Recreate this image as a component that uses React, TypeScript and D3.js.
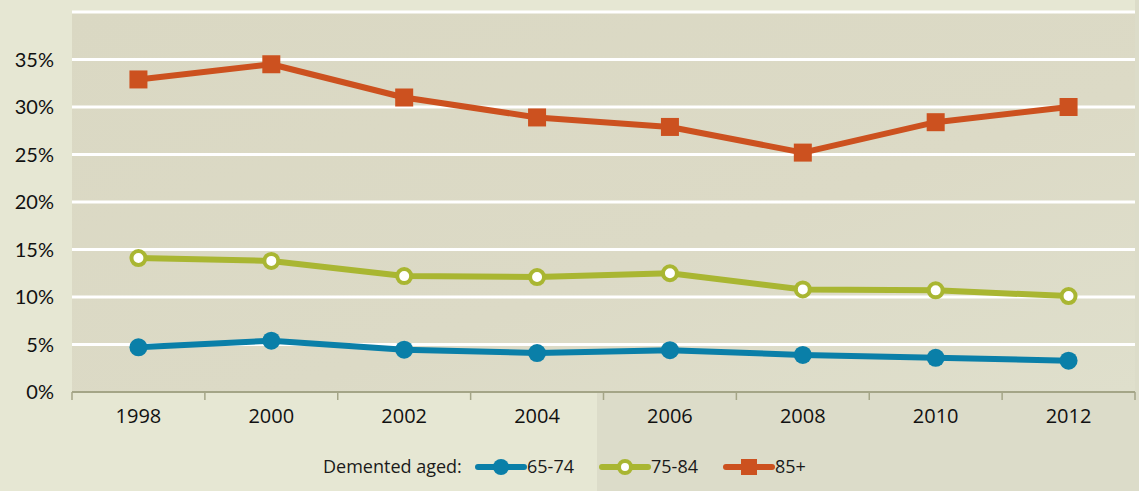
import React from 'react';
import { scaleBand, scaleLinear, line } from 'd3';

const YEARS = ['1998', '2000', '2002', '2004', '2006', '2008', '2010', '2012'];
const AGED_65_74 = [4.7, 5.4, 4.45, 4.1, 4.4, 3.9, 3.6, 3.3];
const AGED_75_84 = [14.1, 13.8, 12.2, 12.1, 12.5, 10.8, 10.7, 10.1];
const AGED_85_PLUS = [32.9, 34.5, 31.0, 28.9, 27.9, 25.2, 28.4, 30.0];
const Y_TICKS = [0, 5, 10, 15, 20, 25, 30, 35];
const GRID_TICKS = [5, 10, 15, 20, 25, 30, 35, 40];
const LEGEND_TITLE = 'Demented aged:';
const SERIES_NAMES = ['65-74', '75-84', '85+'];

const BLUE = '#0a7fa8';
const GREEN = '#a9b632';
const ORANGE = '#cc511f';
const OUTER_BG = '#e6e7d3';
const AXIS = '#a4a587';

const W = 1139;
const H = 491;
const M = { left: 72, right: 4, top: 12, bottom: 99 };

export default function App() {
  const x = scaleBand<string>().domain(YEARS).range([M.left, W - M.right]);
  const y = scaleLinear().domain([0, 40]).range([H - M.bottom, M.top]);
  const cx = (d: string) => (x(d) ?? 0) + x.bandwidth() / 2;

  const lineGen = line<number>()
    .x((_, i) => cx(YEARS[i]))
    .y((v) => y(v));

  const yFont = 'Lato, "Open Sans", sans-serif';
  const xFont = '"Open Sans", "Noto Sans", sans-serif';
  const legendFont = '"Open Sans", "Noto Sans", sans-serif';
  const y0 = y(0);

  // legend layout
  const legendY = 467;
  const legendItems = [
    { name: SERIES_NAMES[0], color: BLUE, x0: 478, kind: 'dot' },
    { name: SERIES_NAMES[1], color: GREEN, x0: 602, kind: 'ring' },
    { name: SERIES_NAMES[2], color: ORANGE, x0: 726, kind: 'square' },
  ];

  return (
    <svg
      width={W}
      height={H}
      style={{ position: 'absolute', left: 0, top: 0, display: 'block' }}
    >
      <defs>
        <linearGradient id="plotShade" x1="0" y1="0" x2="1" y2="1">
          <stop offset="0%" stopColor="#dad8c3" />
          <stop offset="60%" stopColor="#dcdac6" />
          <stop offset="100%" stopColor="#dfdfcc" />
        </linearGradient>
      </defs>
      <rect x={0} y={0} width={W} height={H} fill={OUTER_BG} />
      <rect x={597} y={y0} width={W - 597} height={H - y0} fill="#dcdcc9" />
      <rect
        x={M.left}
        y={M.top}
        width={W - M.right - M.left}
        height={y0 - M.top}
        fill="url(#plotShade)"
      />
      <rect x={W - M.right} y={0} width={M.right} height={y0} fill="#dcdcc9" />

      {/* grid */}
      {GRID_TICKS.map((t) => (
        <line
          key={t}
          x1={M.left}
          x2={W - M.right}
          y1={y(t)}
          y2={y(t)}
          stroke="#ffffff"
          strokeWidth={3}
        />
      ))}

      {/* y labels */}
      {Y_TICKS.map((t) => (
        <text
          key={t}
          x={54}
          y={y(t)}
          dy="0.36em"
          textAnchor="end"
          fontFamily={yFont}
          fontSize={20}
          fill="#111"
        >
          {t}%
        </text>
      ))}

      {/* x axis */}
      <line x1={M.left} x2={W - M.right} y1={y0} y2={y0} stroke={AXIS} strokeWidth={2} />
      {[...YEARS.map((d) => x(d) ?? 0), W - M.right].map((px, i) => (
        <line key={i} x1={px} x2={px} y1={y0} y2={y0 + 8} stroke={AXIS} strokeWidth={1.5} />
      ))}
      {YEARS.map((d) => (
        <text
          key={d}
          x={cx(d)}
          y={y0 + 24}
          dy="0.36em"
          textAnchor="middle"
          fontFamily={xFont}
          fontSize={20}
          fill="#111"
        >
          {d}
        </text>
      ))}

      {/* series */}
      <path d={lineGen(AGED_85_PLUS) ?? ''} fill="none" stroke={ORANGE} strokeWidth={6} strokeLinejoin="round" />
      {AGED_85_PLUS.map((v, i) => (
        <rect key={i} x={cx(YEARS[i]) - 9} y={y(v) - 9} width={18} height={18} fill={ORANGE} />
      ))}

      <path d={lineGen(AGED_75_84) ?? ''} fill="none" stroke={GREEN} strokeWidth={6} strokeLinejoin="round" />
      {AGED_75_84.map((v, i) => (
        <circle key={i} cx={cx(YEARS[i])} cy={y(v)} r={7} fill="#ffffff" stroke={GREEN} strokeWidth={4} />
      ))}

      <path d={lineGen(AGED_65_74) ?? ''} fill="none" stroke={BLUE} strokeWidth={6} strokeLinejoin="round" />
      {AGED_65_74.map((v, i) => (
        <circle key={i} cx={cx(YEARS[i])} cy={y(v)} r={9} fill={BLUE} />
      ))}

      {/* legend */}
      <text
        x={323}
        y={legendY}
        dy="0.36em"
        fontFamily={legendFont}
        fontSize={18}
        fill="#1a1a1a"
      >
        {LEGEND_TITLE}
      </text>
      {legendItems.map((it) => {
        const mid = it.x0 + 23;
        return (
          <g key={it.name}>
            <line
              x1={it.x0}
              x2={it.x0 + 46}
              y1={legendY}
              y2={legendY}
              stroke={it.color}
              strokeWidth={6}
              strokeLinecap="round"
            />
            {it.kind === 'dot' && <circle cx={mid} cy={legendY} r={8} fill={it.color} />}
            {it.kind === 'ring' && (
              <circle cx={mid} cy={legendY} r={6} fill="#ffffff" stroke={it.color} strokeWidth={4} />
            )}
            {it.kind === 'square' && (
              <rect x={mid - 8} y={legendY - 8} width={16} height={16} fill={it.color} />
            )}
            <text
              x={it.x0 + 49}
              y={legendY}
              dy="0.36em"
              fontFamily={legendFont}
              fontSize={18}
              fill="#1a1a1a"
            >
              {it.name}
            </text>
          </g>
        );
      })}
    </svg>
  );
}
